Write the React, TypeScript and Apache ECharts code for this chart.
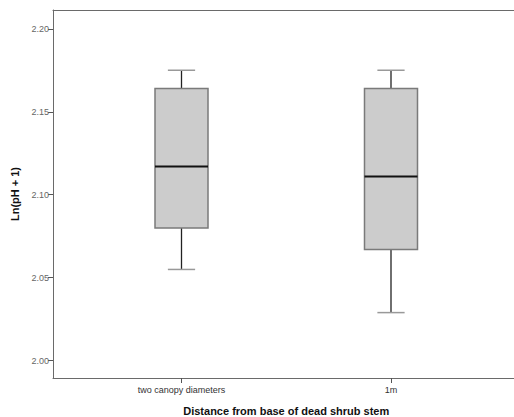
import React, { useEffect, useRef } from "react";
import * as echarts from "echarts";

const categories = ["two canopy diameters", "1m"];
const lowWhisker = [2.055, 2.029];
const q1 = [2.080, 2.067];
const median = [2.117, 2.111];
const q3 = [2.164, 2.164];
const highWhisker = [2.175, 2.175];
const yTicks = [2.0, 2.05, 2.1, 2.15, 2.2];

const Y_MIN = 1.9896;
const Y_MAX = 2.2113;

export default function App() {
  const ref = useRef<HTMLDivElement>(null);
  useEffect(() => {
    if (!ref.current) return;
    const chart = echarts.init(ref.current, null, { renderer: "svg" });
    const data = categories.map((c, i) => [i, lowWhisker[i], q1[i], median[i], q3[i], highWhisker[i]]);
    const font = "'Liberation Sans', Arial, sans-serif";
    const frameLine = { show: true, lineStyle: { color: "#6a6a6a", width: 1 } };
    chart.setOption({
      animation: false,
      backgroundColor: "#ffffff",
      grid: [
        { left: 53, top: 10, bottom: 39, right: 0, outerBoundsMode: "none", containLabel: false },
        { left: 76.75, top: 10, bottom: 39, width: 419, outerBoundsMode: "none", containLabel: false },
      ],
      xAxis: [
        { type: "category", gridIndex: 0, data: ["a"], position: "bottom", axisLine: frameLine, axisTick: { show: false }, axisLabel: { show: false }, splitLine: { show: false } },
        {
          type: "category",
          gridIndex: 1,
          data: categories,
          axisLine: { show: false },
          axisTick: { show: true, alignWithLabel: true, length: 5, lineStyle: { color: "#555" } },
          axisLabel: { fontSize: 9, color: "#333", margin: 7, fontFamily: font },
          name: "Distance from base of dead shrub stem",
          nameLocation: "middle",
          nameGap: 27,
          nameTextStyle: { fontSize: 11, fontWeight: "bold", color: "#111", fontFamily: font },
        },
        { type: "category", gridIndex: 0, data: ["a"], position: "top", axisLine: frameLine, axisTick: { show: false }, axisLabel: { show: false }, splitLine: { show: false } },
      ],
      yAxis: [
        {
          type: "value",
          gridIndex: 0,
          min: Y_MIN,
          max: Y_MAX,
          position: "left",
          splitLine: { show: false },
          axisLine: { ...frameLine, onZero: false },
          axisTick: { show: true, length: 5, customValues: yTicks, lineStyle: { color: "#555" } },
          axisLabel: {
            fontSize: 9,
            color: "#666",
            margin: 4,
            fontFamily: font,
            customValues: yTicks,
            formatter: (v: number) => v.toFixed(2),
          },
          name: "Ln(pH + 1)",
          nameLocation: "middle",
          nameRotate: 90,
          nameGap: 33,
          nameTextStyle: { fontSize: 11, fontWeight: "bold", color: "#111", fontFamily: font },
        },
        { type: "value", gridIndex: 1, min: Y_MIN, max: Y_MAX, show: false, splitLine: { show: false } },
      ],
      series: [
        {
          type: "custom",
          xAxisIndex: 1,
          yAxisIndex: 1,
          data,
          renderItem: (params: any, api: any) => {
            const x = api.value(0);
            const pLo = api.coord([x, api.value(1)]);
            const pQ1 = api.coord([x, api.value(2)]);
            const pMed = api.coord([x, api.value(3)]);
            const pQ3 = api.coord([x, api.value(4)]);
            const pHi = api.coord([x, api.value(5)]);
            const band = api.size([1, 0])[0];
            const bw = band * 0.253;
            const cw = band * 0.13;
            const cx = pLo[0];
            return {
              type: "group",
              children: [
                { type: "line", shape: { x1: cx, y1: pHi[1], x2: cx, y2: pQ3[1] }, style: { stroke: "#222", lineWidth: 1.3 } },
                { type: "line", shape: { x1: cx, y1: pQ1[1], x2: cx, y2: pLo[1] }, style: { stroke: "#222", lineWidth: 1.3 } },
                { type: "line", shape: { x1: cx - cw / 2, y1: pHi[1], x2: cx + cw / 2, y2: pHi[1] }, style: { stroke: "#999", lineWidth: 1.5 } },
                { type: "line", shape: { x1: cx - cw / 2, y1: pLo[1], x2: cx + cw / 2, y2: pLo[1] }, style: { stroke: "#999", lineWidth: 1.5 } },
                {
                  type: "rect",
                  shape: { x: cx - bw / 2, y: pQ3[1], width: bw, height: pQ1[1] - pQ3[1] },
                  style: { fill: "#cccccc", stroke: "#7a7a7a", lineWidth: 1.5 },
                },
                { type: "line", shape: { x1: cx - bw / 2, y1: pMed[1], x2: cx + bw / 2, y2: pMed[1] }, style: { stroke: "#111", lineWidth: 2 } },
              ],
            };
          },
        },
      ],
    });
    return () => chart.dispose();
  }, []);
  return <div ref={ref} style={{ position: "fixed", left: 0, top: 0, width: 514, height: 417, overflow: "hidden", background: "#fff" }} />;
}
